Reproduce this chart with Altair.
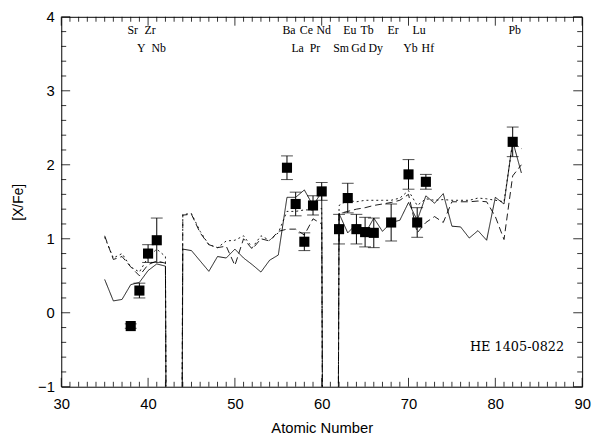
import altair as alt
import pandas as pd

# ---- observed abundances ----
Z_obs = [38, 39, 40, 41, 56, 57, 58, 59, 60, 62, 63, 64, 65, 66, 68, 70, 71, 72, 82]
xfe_obs = [-0.18, 0.30, 0.80, 0.98, 1.96, 1.47, 0.96, 1.45, 1.64, 1.13, 1.55, 1.13,
           1.09, 1.08, 1.22, 1.87, 1.22, 1.77, 2.31]
err_obs = [0.03, 0.10, 0.12, 0.30, 0.16, 0.16, 0.12, 0.13, 0.12, 0.20, 0.20, 0.20,
           0.20, 0.20, 0.25, 0.20, 0.20, 0.10, 0.20]

# ---- model curves (Z = 35..83; Tc and Pm have no stable isotopes -> far below) ----
Z_mod = list(range(35, 84))
solid = [0.45, 0.16, 0.18, 0.38, 0.41, 0.57, 0.66, 0.63, -30,
         0.86, 0.84, 0.70, 0.56, 0.76, 0.74, 0.86, 0.74, 0.65, 0.55, 0.71, 0.78,
         1.56, 1.56, 1.66, 1.45, 1.63, -30,
         1.34, 1.08, 1.20, 1.07, 1.28, 1.10, 1.22, 1.25, 1.49, 1.25, 1.58, 1.48,
         1.61, 1.17, 1.16, 1.01, 1.11, 0.98, 1.56, 1.47, 2.32, 1.89]
dotted = [1.02, 0.74, 0.80, 0.62, 0.55, 0.75, 0.86, 0.76, -30,
          1.33, 1.34, 1.10, 0.92, 0.88, 0.97, 0.98, 1.04, 0.88, 1.04, 0.98, 1.08,
          1.37, 1.37, 1.39, 1.39, 1.41, -30,
          1.45, 1.52, 1.50, 1.52, 1.52, 1.52, 1.52, 1.55, 1.65, 1.45, 1.54, 1.52,
          1.53, 1.52, 1.52, 1.52, 1.55, 1.54, 1.52, 1.50, 2.30, 2.22]
dashed = [1.04, 0.72, 0.76, 0.62, 0.50, 0.65, 0.70, 0.67, -30,
          1.32, 1.33, 1.08, 0.92, 0.88, 0.90, 0.64, 1.00, 0.86, 1.00, 0.97, 1.10,
          1.13, 1.13, 1.05, 1.27, 1.20, -30,
          1.34, 1.37, 1.40, 1.42, 1.45, 1.47, 1.49, 1.52, 1.60, 1.08, 1.22, 1.30,
          1.22, 1.50, 1.50, 1.50, 1.51, 1.50, 1.30, 0.99, 1.85, 2.00]

# ---- element labels ----
el_row1 = ["Sr", "Zr", "Ba", "Ce", "Nd", "Eu", "Tb", "Er", "Lu", "Pb"]
Z_row1 = [38, 40, 56, 58, 60, 63, 65, 68, 71, 82]
el_row2 = ["Y", "Nb", "La", "Pr", "Sm", "Gd", "Dy", "Yb", "Hf"]
Z_row2 = [39, 41, 57, 59, 62, 64, 66, 70, 72]

# ---- axis ticks ----
x_major = [30, 40, 50, 60, 70, 80, 90]
x_minor = [z for z in range(31, 90) if z % 10 != 0]
y_major = [-1, 0, 1, 2, 3, 4]
y_minor = [-0.8, -0.6, -0.4, -0.2, 0.2, 0.4, 0.6, 0.8, 1.2, 1.4, 1.6, 1.8,
           2.2, 2.4, 2.6, 2.8, 3.2, 3.4, 3.6, 3.8]

W, H = 528, 375
FONT = "Liberation Sans"

xs = alt.Scale(domain=[30, 90], nice=False, zero=False)
ys = alt.Scale(domain=[-1, 4], nice=False, zero=False)
xaxis = alt.Axis(values=x_major, ticks=False, domain=False, grid=False, format="d",
                 labelFont=FONT, labelFontSize=15, labelColor="black", labelPadding=10,
                 labelFlush=False, title="Atomic Number", titleFont=FONT,
                 titleFontSize=15, titleFontWeight="normal", titleColor="black",
                 titlePadding=9)
yaxis = alt.Axis(values=y_major, ticks=False, domain=False, grid=False, format="d",
                 labelFont=FONT, labelFontSize=15, labelColor="black", labelPadding=7,
                 labelFlush=False, title="[X/Fe]", titleFont=FONT, titleFontSize=14,
                 titleFontWeight="normal", titleColor="black", titlePadding=12)


def X(f):
    return alt.X(f, type="quantitative", scale=xs, axis=xaxis)


def Y(f):
    return alt.Y(f, type="quantitative", scale=ys, axis=yaxis)


df_mod = pd.DataFrame({"Z": Z_mod, "solid": solid, "dotted": dotted, "dashed": dashed})
df_obs = pd.DataFrame({"Z": Z_obs, "v": xfe_obs, "e": err_obs})

lines = []
for col, dash in [("solid", [1, 0]), ("dotted", [2, 3]), ("dashed", [7, 4])]:
    lines.append(
        alt.Chart(df_mod).mark_line(color="black", strokeWidth=0.9, strokeDash=dash, clip=True)
        .encode(x=X("Z"), y=Y(col))
    )

err_base = alt.Chart(df_obs).transform_calculate(
    lo="datum.v - datum.e", hi="datum.v + datum.e")
err_rule = err_base.mark_rule(color="black", strokeWidth=1).encode(
    x=X("Z"), y=Y("lo"), y2="hi:Q")
cap_lo = err_base.mark_tick(color="black", thickness=1, size=12, orient="horizontal").encode(
    x=X("Z"), y=Y("lo"))
cap_hi = err_base.mark_tick(color="black", thickness=1, size=12, orient="horizontal").encode(
    x=X("Z"), y=Y("hi"))
pts = alt.Chart(df_obs).mark_square(color="black", size=105, opacity=1).encode(
    x=X("Z"), y=Y("v"))

# tick marks pointing inward on all four sides
dfx_maj = pd.DataFrame({"Z": x_major})
dfx_min = pd.DataFrame({"Z": x_minor})
dfy_maj = pd.DataFrame({"v": y_major})
dfy_min = pd.DataFrame({"v": y_minor})
tick_layers = []
for dfx, ln in [(dfx_maj, 9), (dfx_min, 5)]:
    tick_layers.append(alt.Chart(dfx).mark_rule(color="black", strokeWidth=0.8).encode(
        x=X("Z"), y=alt.value(H), y2=alt.value(H - ln)))
    tick_layers.append(alt.Chart(dfx).mark_rule(color="black", strokeWidth=0.8).encode(
        x=X("Z"), y=alt.value(0), y2=alt.value(ln)))
for dfy, ln in [(dfy_maj, 9), (dfy_min, 5)]:
    tick_layers.append(alt.Chart(dfy).mark_rule(color="black", strokeWidth=0.8).encode(
        y=Y("v"), x=alt.value(0), x2=alt.value(ln)))
    tick_layers.append(alt.Chart(dfy).mark_rule(color="black", strokeWidth=0.8).encode(
        y=Y("v"), x=alt.value(W), x2=alt.value(W - ln)))

lab1 = alt.Chart(pd.DataFrame({"Z": Z_row1, "el": el_row1})).mark_text(
    font="Liberation Serif", fontSize=12, color="black", dx=2, baseline="middle"
).encode(x=X("Z"), y=alt.value(13), text="el:N")
lab2 = alt.Chart(pd.DataFrame({"Z": Z_row2, "el": el_row2})).mark_text(
    font="Liberation Serif", fontSize=12, color="black", dx=2, baseline="middle"
).encode(x=X("Z"), y=alt.value(32), text="el:N")

star = alt.Chart(pd.DataFrame({"t": ["HE 1405-0822"]})).mark_text(
    font="DejaVu Serif", fontSize=13, color="black", baseline="middle", align="center"
).encode(x=alt.value(462), y=alt.value(335), text="t:N")

chart = alt.layer(*tick_layers, *lines, err_rule, cap_lo, cap_hi, pts, lab1, lab2, star).properties(
    width=W, height=H,
    padding={"left": 54, "top": 6, "right": 10, "bottom": 46},
    autosize=alt.AutoSizeParams(type="none"),
    background="white",
).configure_view(stroke="black", strokeWidth=1)

chart.save("out.html", embed_options={"renderer": "svg", "actions": False})
